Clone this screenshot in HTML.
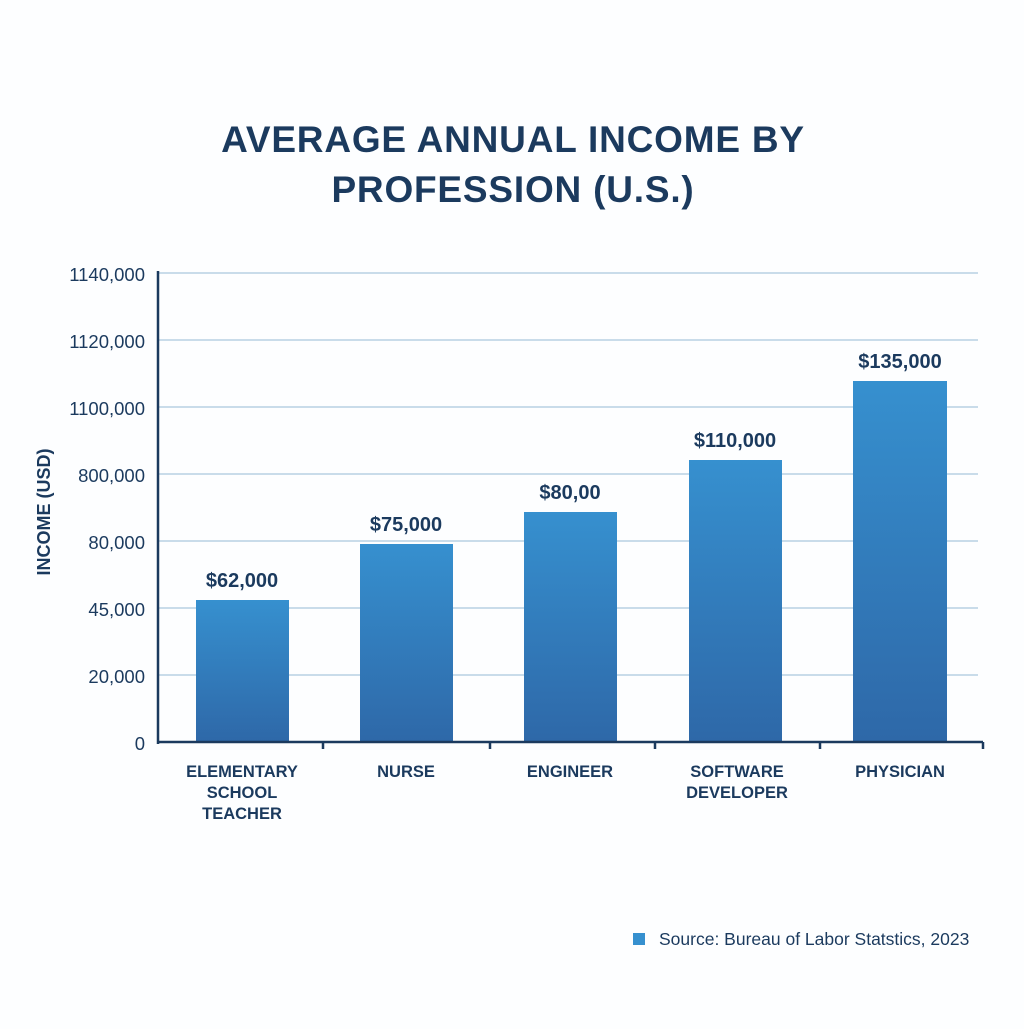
<!DOCTYPE html>
<html><head><style>
body{margin:0;background:#fdfeff;}
svg text{font-family:"Liberation Sans",sans-serif;}
</style></head><body>
<svg width="1024" height="1024" viewBox="0 0 1024 1024" xmlns="http://www.w3.org/2000/svg">
<defs>
<linearGradient id="g" x1="0" y1="0" x2="0" y2="1">
<stop offset="0" stop-color="#3690cf"/><stop offset="1" stop-color="#2e68a8"/>
</linearGradient>
</defs>
<rect width="1024" height="1024" fill="#fdfeff"/>
<g font-weight="bold" fill="#1b3a5e" font-size="37" text-anchor="middle" letter-spacing="0.8">
<text x="513" y="152">AVERAGE ANNUAL INCOME BY</text>
<text x="513" y="202">PROFESSION (U.S.)</text>
</g>
<g stroke="#c9dcea" stroke-width="2">
<line x1="158" y1="273" x2="978" y2="273"/>
<line x1="158" y1="340" x2="978" y2="340"/>
<line x1="158" y1="407" x2="978" y2="407"/>
<line x1="158" y1="474" x2="978" y2="474"/>
<line x1="158" y1="541" x2="978" y2="541"/>
<line x1="158" y1="608" x2="978" y2="608"/>
<line x1="158" y1="675" x2="978" y2="675"/>
</g>
<g fill="url(#g)">
<rect x="196" y="600" width="93" height="142"/>
<rect x="360" y="544" width="93" height="198"/>
<rect x="524" y="512" width="93" height="230"/>
<rect x="689" y="460" width="93" height="282"/>
<rect x="853" y="381" width="94" height="361"/>
</g>
<g stroke="#1b3a5e" stroke-width="2.5">
<line x1="158" y1="271" x2="158" y2="744"/>
<line x1="157" y1="742" x2="983" y2="742"/>
<line x1="323" y1="742" x2="323" y2="749"/>
<line x1="490" y1="742" x2="490" y2="749"/>
<line x1="655" y1="742" x2="655" y2="749"/>
<line x1="820" y1="742" x2="820" y2="749"/>
<line x1="983" y1="742" x2="983" y2="749"/>
</g>
<g fill="#1b3a5e" font-size="18.5" text-anchor="end">
<text x="145" y="281">1140,000</text>
<text x="145" y="348">1120,000</text>
<text x="145" y="415">1100,000</text>
<text x="145" y="482">800,000</text>
<text x="145" y="549">80,000</text>
<text x="145" y="616">45,000</text>
<text x="145" y="683">20,000</text>
<text x="145" y="750">0</text>
</g>
<text transform="translate(50,512) rotate(-90)" text-anchor="middle" font-size="18" font-weight="bold" fill="#1b3a5e">INCOME (USD)</text>
<g fill="#1b3a5e" font-size="20" font-weight="bold" text-anchor="middle">
<text x="242" y="587">$62,000</text>
<text x="406" y="531">$75,000</text>
<text x="570" y="499">$80,00</text>
<text x="735" y="447">$110,000</text>
<text x="900" y="368">$135,000</text>
</g>
<g fill="#1b3a5e" font-size="16.5" font-weight="bold" text-anchor="middle">
<text x="242" y="777">ELEMENTARY</text>
<text x="242" y="798">SCHOOL</text>
<text x="242" y="819">TEACHER</text>
<text x="406" y="777">NURSE</text>
<text x="570" y="777">ENGINEER</text>
<text x="737" y="777">SOFTWARE</text>
<text x="737" y="798">DEVELOPER</text>
<text x="900" y="777">PHYSICIAN</text>
</g>
<rect x="633" y="933" width="12" height="12" fill="#3690cf"/>
<text x="659" y="945" font-size="17.5" fill="#1b3a5e">Source: Bureau of Labor Statstics, 2023</text>
</svg>
</body></html>
